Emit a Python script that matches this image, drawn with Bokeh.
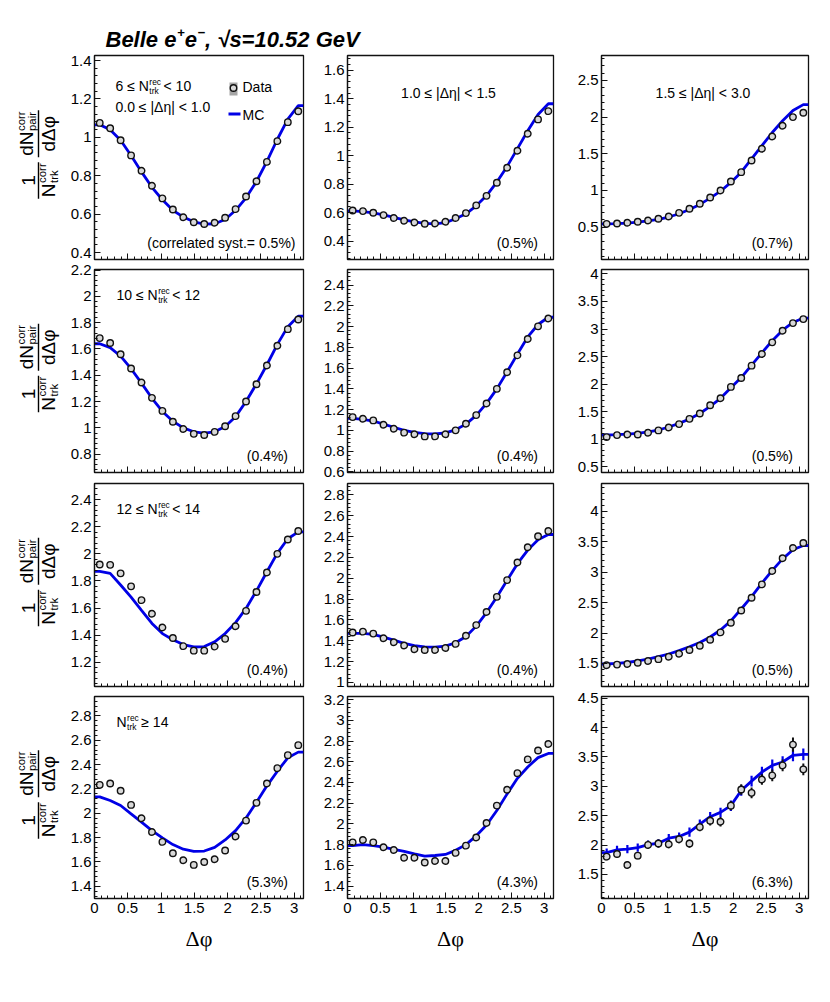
import numpy as np
from bokeh.plotting import figure
from bokeh.models import Range1d, FixedTicker, CustomJSTickFormatter
from bokeh.layouts import column, row
from bokeh.embed import file_html
from bokeh.resources import INLINE
from bokeh.core.properties import value

# ---------------- data ----------------
n_bins = 20
phi_centers = list((np.arange(n_bins) + 0.5) * np.pi / n_bins)

data_n6_eta0 = [1.075, 1.047, 0.985, 0.906, 0.826, 0.748, 0.682, 0.624, 0.584, 0.558,
                0.549, 0.555, 0.581, 0.626, 0.692, 0.771, 0.872, 0.980, 1.079, 1.136]
mc_n6_eta0 = [1.065, 1.040, 0.985, 0.905, 0.820, 0.740, 0.675, 0.620, 0.585, 0.560,
              0.548, 0.550, 0.572, 0.620, 0.685, 0.770, 0.875, 0.990, 1.095, 1.165]
data_n6_eta1 = [0.615, 0.611, 0.599, 0.583, 0.562, 0.543, 0.531, 0.522, 0.524, 0.536,
                0.562, 0.597, 0.651, 0.718, 0.810, 0.915, 1.035, 1.154, 1.255, 1.313]
mc_n6_eta1 = [0.613, 0.608, 0.598, 0.585, 0.567, 0.550, 0.535, 0.525, 0.522, 0.530,
              0.557, 0.592, 0.648, 0.720, 0.815, 0.925, 1.050, 1.175, 1.290, 1.365]
data_n6_eta2 = [0.545, 0.550, 0.559, 0.573, 0.591, 0.614, 0.645, 0.695, 0.750, 0.818,
                0.905, 1.000, 1.123, 1.250, 1.409, 1.568, 1.736, 1.882, 2.000, 2.059]
mc_n6_eta2 = [0.545, 0.548, 0.555, 0.568, 0.585, 0.607, 0.638, 0.683, 0.740, 0.810,
              0.895, 0.990, 1.110, 1.250, 1.430, 1.610, 1.790, 1.950, 2.090, 2.170]

data_n10_eta0 = [1.683, 1.646, 1.560, 1.452, 1.345, 1.228, 1.129, 1.046, 0.991, 0.954,
                 0.945, 0.969, 1.012, 1.089, 1.200, 1.332, 1.474, 1.625, 1.751, 1.825]
mc_n10_eta0 = [1.640, 1.610, 1.545, 1.450, 1.340, 1.225, 1.125, 1.050, 1.000, 0.970,
               0.960, 0.970, 1.010, 1.085, 1.200, 1.335, 1.480, 1.635, 1.770, 1.850]
data_n10_eta1 = [1.128, 1.112, 1.096, 1.054, 1.016, 0.978, 0.962, 0.942, 0.942, 0.962,
                 1.000, 1.064, 1.147, 1.259, 1.400, 1.560, 1.723, 1.880, 2.002, 2.078]
mc_n10_eta1 = [1.115, 1.105, 1.090, 1.060, 1.030, 1.000, 0.980, 0.968, 0.965, 0.975,
               1.005, 1.060, 1.145, 1.260, 1.400, 1.565, 1.735, 1.900, 2.020, 2.090]
data_n10_eta2 = [1.042, 1.078, 1.090, 1.090, 1.120, 1.163, 1.217, 1.277, 1.373, 1.470,
                 1.620, 1.747, 1.952, 2.114, 2.337, 2.548, 2.759, 2.970, 3.108, 3.181]
mc_n10_eta2 = [1.080, 1.085, 1.095, 1.110, 1.135, 1.170, 1.225, 1.290, 1.370, 1.470,
               1.600, 1.745, 1.935, 2.120, 2.345, 2.570, 2.790, 2.980, 3.120, 3.200]

data_n12_eta0 = [1.922, 1.919, 1.856, 1.760, 1.658, 1.558, 1.456, 1.378, 1.318, 1.285,
                 1.285, 1.315, 1.372, 1.465, 1.579, 1.718, 1.862, 2.000, 2.106, 2.169]
mc_n12_eta0 = [1.871, 1.856, 1.770, 1.680, 1.582, 1.486, 1.411, 1.366, 1.330, 1.312,
               1.315, 1.350, 1.411, 1.492, 1.597, 1.727, 1.868, 2.006, 2.112, 2.163]
data_n12_eta1 = [1.479, 1.487, 1.468, 1.424, 1.385, 1.354, 1.318, 1.310, 1.310, 1.330,
                 1.369, 1.448, 1.550, 1.676, 1.821, 1.982, 2.151, 2.297, 2.403, 2.454]
mc_n12_eta1 = [1.470, 1.470, 1.460, 1.435, 1.405, 1.375, 1.352, 1.340, 1.338, 1.348,
               1.380, 1.440, 1.540, 1.670, 1.820, 1.980, 2.140, 2.270, 2.370, 2.420]
data_n12_eta2 = [1.470, 1.480, 1.490, 1.510, 1.540, 1.570, 1.610, 1.660, 1.720, 1.790,
                 1.890, 2.010, 2.170, 2.370, 2.580, 2.800, 3.020, 3.230, 3.400, 3.480]
mc_n12_eta2 = [1.490, 1.500, 1.515, 1.540, 1.570, 1.610, 1.655, 1.710, 1.775, 1.845,
               1.935, 2.050, 2.200, 2.395, 2.600, 2.820, 3.030, 3.220, 3.370, 3.440]

data_n14_eta0 = [2.234, 2.245, 2.185, 2.069, 1.960, 1.847, 1.765, 1.672, 1.614, 1.576,
                 1.600, 1.622, 1.694, 1.809, 1.940, 2.086, 2.245, 2.371, 2.478, 2.560]
mc_n14_eta0 = [2.135, 2.105, 2.064, 1.995, 1.927, 1.858, 1.798, 1.743, 1.705, 1.688,
               1.690, 1.720, 1.781, 1.858, 1.962, 2.091, 2.226, 2.346, 2.456, 2.503]
data_n14_eta1 = [1.822, 1.845, 1.822, 1.775, 1.748, 1.673, 1.673, 1.627, 1.642, 1.642,
                 1.720, 1.790, 1.869, 2.009, 2.177, 2.330, 2.490, 2.623, 2.709, 2.771]
mc_n14_eta1 = [1.790, 1.800, 1.790, 1.775, 1.755, 1.735, 1.710, 1.690, 1.695, 1.705,
               1.745, 1.800, 1.885, 1.990, 2.130, 2.290, 2.440, 2.550, 2.640, 2.680]
data_n14_eta2 = [1.803, 1.849, 1.660, 1.820, 2.003, 2.026, 2.014, 2.100, 2.026, 2.306,
                 2.414, 2.397, 2.671, 2.946, 2.889, 3.117, 3.186, 3.357, 3.711, 3.289]
data_err_n14_eta2 = [0.06, 0.06, 0.06, 0.06, 0.07, 0.07, 0.07, 0.07, 0.07, 0.07,
                     0.08, 0.08, 0.08, 0.09, 0.09, 0.09, 0.10, 0.10, 0.12, 0.10]
mc_n14_eta2 = [1.870, 1.917, 1.930, 1.957, 2.009, 2.031, 2.117, 2.146, 2.220, 2.357,
               2.483, 2.557, 2.671, 2.929, 3.089, 3.243, 3.357, 3.414, 3.529, 3.546]
mc_err_n14_eta2 = [0.07, 0.07, 0.07, 0.07, 0.07, 0.07, 0.07, 0.07, 0.08, 0.08,
                   0.08, 0.08, 0.09, 0.09, 0.09, 0.09, 0.10, 0.10, 0.10, 0.10]

data_grid = [[data_n6_eta0, data_n6_eta1, data_n6_eta2],
             [data_n10_eta0, data_n10_eta1, data_n10_eta2],
             [data_n12_eta0, data_n12_eta1, data_n12_eta2],
             [data_n14_eta0, data_n14_eta1, data_n14_eta2]]
mc_grid = [[mc_n6_eta0, mc_n6_eta1, mc_n6_eta2],
           [mc_n10_eta0, mc_n10_eta1, mc_n10_eta2],
           [mc_n12_eta0, mc_n12_eta1, mc_n12_eta2],
           [mc_n14_eta0, mc_n14_eta1, mc_n14_eta2]]

mult_labels = [[("6 ≤ N", "n"), (("rec", "trk"), "ss"), (" < 10", "n")],
               [("10 ≤ N", "n"), (("rec", "trk"), "ss"), (" < 12", "n")],
               [("12 ≤ N", "n"), (("rec", "trk"), "ss"), (" < 14", "n")],
               [("N", "n"), (("rec", "trk"), "ss"), (" ≥ 14", "n")]]
eta_labels = ["0.0 ≤ |Δη| < 1.0", "1.0 ≤ |Δη| < 1.5", "1.5 ≤ |Δη| < 3.0"]
syst_labels = [["(correlated syst.= 0.5%)", "(0.5%)", "(0.7%)"],
               ["(0.4%)", "(0.4%)", "(0.5%)"],
               ["(0.4%)", "(0.4%)", "(0.5%)"],
               ["(5.3%)", "(4.3%)", "(6.3%)"]]
x_tick_values = [0, 0.5, 1, 1.5, 2, 2.5, 3]

# ---------------- layout / style ----------------
y_ranges = [[(0.364, 1.426), (0.271, 1.704), (0.059, 2.84)],
            [(0.66, 2.205), (0.594, 2.55), (0.40, 4.08)],
            [(1.02, 2.52), (0.96, 2.91), (1.12, 4.46)],
            [(1.30, 2.96), (1.28, 3.23), (1.09, 4.53)]]
y_steps = [0.2, 0.2, 0.5]

YLAB_W = 60
FIG_X = [60, 318, 568]
FIG_W = [258, 250, 254]
FRAME_L = [94, 347, 601]
FRAME_W = [209, 206, 207]
TITLE_H = 51
BOTTOM = 970
# figure top edges per column (rows 1..4); splits chosen so edge tick labels are not clipped
FIG_T = [[51, 261, 477, 691],
         [51, 264, 481, 691],
         [51, 262, 478, 689]]
FRAME_T = [55, 269, 483, 696]
FRAME_H = [204, 203, 203, 202]

BLUE = "#0000e6"
FONT = "Liberation Sans"
BASE_SHIFT = 0.36   # anchor = baseline - BASE_SHIFT * size (renderer centres text on anchor)

REG = {' ': 278, '(': 333, ')': 333, '%': 889, '.': 278, '=': 584, '<': 584, '>': 584,
       '≤': 549, '≥': 549, '|': 260, 'Δ': 650, 'η': 556, 'φ': 650, 'N': 722, 'c': 500,
       'e': 556, 'k': 500, 'r': 333, 't': 278, 'o': 556, 'a': 556, 'i': 222, 'p': 556,
       'd': 556, 'l': 222, 's': 500, 'y': 500, '1': 556}
BOLD = {' ': 278, ',': 278, '.': 278, '=': 584, '+': 584, '−': 584, '√': 549, 'B': 722,
        'e': 556, 'l': 278, 's': 556, 'G': 778, 'V': 667}


def fig_h(c, r):
    t = FIG_T[c]
    return (t[r + 1] if r < 3 else BOTTOM) - t[r]


def tw(s, size, bold=False):
    tab = BOLD if bold else REG
    return sum(tab.get(ch, 556) for ch in s) * size / 1000.0


def txt(p, conv, px, py, s, size, align="left", font=FONT, style="normal"):
    x, y = conv(px, py - BASE_SHIFT * size)
    p.text(x=[x], y=[y], text=[s], text_font=value(font), text_font_size=f"{size:.2f}px",
           text_font_style=style, text_align=align, text_baseline="alphabetic",
           text_color="black")


def rich(p, conv, px, py, pieces, size, style="normal", bold=False, sub=0.6, pad=3.0):
    x = px
    for s, kind in pieces:
        if kind == "n":
            txt(p, conv, x, py, s, size, style=style)
            x += tw(s, size, bold)
        elif kind == "ss":
            sup, sb = s
            fs = size * sub
            txt(p, conv, x + 0.5, py - 0.45 * size, sup, fs, style=style)
            txt(p, conv, x + 0.5, py + 0.15 * size, sb, fs, style=style)
            x += max(tw(sup, fs, bold), tw(sb, fs, bold)) + pad
        elif kind == "sup":
            fs = size * sub
            txt(p, conv, x + 0.5, py - 0.45 * size, s, fs, style=style)
            x += tw(s, fs, bold) + pad
    return x


def ticks_for(y0, y1, step):
    k0 = int(np.ceil(y0 / step - 1e-9))
    k1 = int(np.floor(y1 / step + 1e-9))
    major = [round(k * step, 4) for k in range(k0, k1 + 1)]
    ms = step / 5
    m0 = int(np.ceil(y0 / ms - 1e-9))
    m1 = int(np.floor(y1 / ms + 1e-9))
    minor = [round(k * ms, 4) for k in range(m0, m1 + 1)]
    return major, minor


FMT = "const v = Math.round(tick * 1000) / 1000; return v.toString();"


def style_axis(ax):
    ax.major_tick_in = 6
    ax.major_tick_out = 0
    ax.minor_tick_in = 3
    ax.minor_tick_out = 0
    ax.axis_line_color = "#111111"
    ax.axis_line_width = 1.2
    ax.major_tick_line_color = "#111111"
    ax.minor_tick_line_color = "#111111"
    ax.major_label_text_font = FONT
    ax.major_label_text_font_size = "15px"
    ax.major_label_text_color = "black"


def make_panel(r, c):
    y0, y1 = y_ranges[r][c]
    top = FIG_T[c][r]
    h = fig_h(c, r)
    p = figure(width=FIG_W[c], height=h,
               x_range=Range1d(0, np.pi), y_range=Range1d(y0, y1),
               output_backend="svg", toolbar_location=None,
               min_border_left=FRAME_L[c] - FIG_X[c],
               min_border_right=FIG_X[c] + FIG_W[c] - FRAME_L[c] - FRAME_W[c],
               min_border_top=FRAME_T[r] - top,
               min_border_bottom=top + h - FRAME_T[r] - FRAME_H[r])
    p.xgrid.visible = False
    p.ygrid.visible = False
    p.outline_line_color = "#111111"
    p.outline_line_width = 1.3
    p.background_fill_color = "white"
    p.border_fill_color = "white"

    xa = p.xaxis[0]
    ya = p.yaxis[0]
    style_axis(xa)
    style_axis(ya)
    xa.ticker = FixedTicker(ticks=x_tick_values,
                            minor_ticks=[round(0.1 * k, 2) for k in range(0, 32)])
    if r == 3:
        xa.formatter = CustomJSTickFormatter(code=FMT)
        xa.major_label_standoff = 4
        xa.axis_label = "Δφ"
        xa.axis_label_text_font = "Liberation Serif"
        xa.axis_label_text_font_size = "22px"
        xa.axis_label_text_font_style = "normal"
        xa.axis_label_text_color = "black"
        xa.axis_label_standoff = 10
    else:
        xa.formatter = CustomJSTickFormatter(code="return '';")
        xa.major_label_text_font_size = "0px"
        xa.major_label_standoff = 0
    major, minor = ticks_for(y0, y1, y_steps[c])
    ya.ticker = FixedTicker(ticks=major, minor_ticks=minor)
    ya.formatter = CustomJSTickFormatter(code=FMT)
    ya.major_label_standoff = 3

    def conv(px, py):
        return ((px - FRAME_L[c]) / FRAME_W[c] * np.pi,
                y1 - (py - FRAME_T[r]) / FRAME_H[r] * (y1 - y0))

    mc = mc_grid[r][c]
    dat = data_grid[r][c]
    xs = [0.0] + phi_centers + [np.pi]
    ys = [mc[0]] + mc + [mc[-1]]
    p.line(xs, ys, line_color=BLUE, line_width=2.8)
    if r == 3 and c == 2:
        p.segment(x0=phi_centers, x1=phi_centers,
                  y0=[m - e for m, e in zip(mc_n14_eta2, mc_err_n14_eta2)],
                  y1=[m + e for m, e in zip(mc_n14_eta2, mc_err_n14_eta2)],
                  line_color=BLUE, line_width=2.2)
        p.segment(x0=phi_centers, x1=phi_centers,
                  y0=[d - e for d, e in zip(data_n14_eta2, data_err_n14_eta2)],
                  y1=[d + e for d, e in zip(data_n14_eta2, data_err_n14_eta2)],
                  line_color="#111111", line_width=2.0)
    p.scatter(phi_centers, dat, marker="circle", size=6.5, line_color="#111111",
              line_width=1.4, fill_color="#d8d8d8")

    # annotations
    F = 14
    if c == 0:
        if r == 0:
            rich(p, conv, 115, 91, mult_labels[r], F)
            txt(p, conv, 115, 112, eta_labels[0], F)
        else:
            rich(p, conv, 116, FRAME_T[r] + 31, mult_labels[r], F)
    elif r == 0:
        txt(p, conv, FRAME_L[c] + FRAME_W[c] / 2 - 2, 98, eta_labels[c], F, align="center")
    right = FRAME_L[c] + FRAME_W[c] - 15.5
    if r == 0 and c == 0:
        right = 295
    txt(p, conv, right, FRAME_T[r] + FRAME_H[r] - 11, syst_labels[r][c], F, align="right")

    if r == 0 and c == 0:
        # legend
        (lx0, ly0), (lx1, ly1) = conv(229, 82), conv(237, 95)
        p.quad(left=[lx0], right=[lx1], top=[ly0], bottom=[ly1], fill_color="#a6a6a6",
               line_color=None)
        cx, cy = conv(233, 87.5)
        p.scatter([cx], [cy], marker="circle", size=6.5, line_color="#111111",
                  line_width=1.4, fill_color="#d8d8d8")
        txt(p, conv, 242, 92, "Data", F)
        (bx0, by), (bx1, _) = conv(228, 113.5), conv(240, 113.5)
        p.line([bx0, bx1], [by, by], line_color=BLUE, line_width=2.8)
        txt(p, conv, 242, 120, "MC", F)
    return p


def blank_fig(w, h):
    p = figure(width=w, height=h, x_range=Range1d(0, w), y_range=Range1d(h, 0),
               x_axis_type=None, y_axis_type=None, output_backend="svg",
               toolbar_location=None, min_border=0)
    p.outline_line_color = None
    p.grid.visible = False
    p.background_fill_color = "white"
    p.border_fill_color = "white"
    return p


def make_ylab(r):
    top = FIG_T[0][r]
    H = fig_h(0, r)
    p = blank_fig(YLAB_W, H)
    F = 19.0
    f = F * 0.6
    XB = 38.0
    yc = FRAME_T[r] - top + FRAME_H[r] / 2 - 3
    ext = 1.5
    W1 = max(tw("1", F), tw("N", F) + max(tw("corr", f), tw("trk", f))) + 2 * ext
    N2 = tw("dN", F) + max(tw("corr", f), tw("pair", f))
    W2 = max(N2, tw("dΔφ", F)) + 2 * ext
    gap = 5
    L = W1 + gap + W2
    Y0 = yc + L / 2

    def rt(u, xb, s, size, align="left"):
        p.text(x=[xb - BASE_SHIFT * size], y=[Y0 - u], text=[s], angle=np.pi / 2,
               text_align=align, text_baseline="alphabetic", text_font=value(FONT),
               text_font_size=f"{size:.2f}px", text_color="black")

    U2 = W1 + gap
    p.line([XB, XB], [Y0, Y0 - W1], line_color="black", line_width=1.4)
    p.line([XB, XB], [Y0 - U2, Y0 - U2 - W2], line_color="black", line_width=1.4)
    xden = XB + 3 + 0.716 * F
    rt(W1 / 2, XB - 3, "1", F, "center")
    D1 = tw("N", F) + max(tw("corr", f), tw("trk", f))
    u = (W1 - D1) / 2
    rt(u, xden, "N", F)
    u += tw("N", F) + 0.5
    rt(u, xden - 0.45 * F, "corr", f)
    rt(u, xden + 0.15 * F, "trk", f)
    xn2 = XB - 5
    u = U2 + (W2 - N2) / 2
    rt(u, xn2, "dN", F)
    u += tw("dN", F) + 0.5
    rt(u, xn2 - 0.45 * F, "corr", f)
    rt(u, xn2 + 0.15 * F, "pair", f)
    rt(U2 + W2 / 2, xden, "dΔφ", F, "center")
    return p


title_fig = blank_fig(822, TITLE_H)
title_pieces = [("Belle e", "n"), ("+", "sup"), ("e", "n"), ("−", "sup"), (", √s=10.52 GeV", "n")]
rich(title_fig, lambda px, py: (px, py), 105, 47, title_pieces, 22,
     style="bold italic", bold=True, pad=0.5)

cols = [column(*[make_ylab(r) for r in range(4)])]
for c in range(3):
    cols.append(column(*[make_panel(r, c) for r in range(4)]))
layout = column(title_fig, row(*cols))

open("out.html", "w").write(file_html(layout, INLINE))
